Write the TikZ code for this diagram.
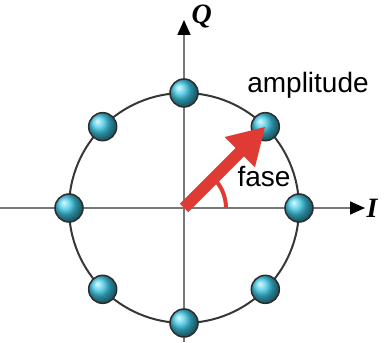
\documentclass[tikz,border=0pt]{standalone}
\usepackage{fontspec}
\setmainfont{Liberation Sans}
\newfontfamily\axisfont{Liberation Serif}
\usepackage{xcolor}
\definecolor{arrowred}{RGB}{224,58,52}
\definecolor{ballblue}{RGB}{60,200,230}
\definecolor{ringgray}{RGB}{55,55,55}
\definecolor{axisgray}{RGB}{120,120,120}
\usetikzlibrary{arrows.meta, positioning}

\begin{document}
\begin{tikzpicture}[
  x=1pt, y=1pt,
  dot/.style={circle,draw=ringgray!80!black,line width=1.5pt,minimum size=28pt,inner sep=0pt,
              shading=ball,ball color=ballblue},
  axis/.style={draw=axisgray,line width=1.8pt,-{Triangle[length=15pt,width=13pt,color=black]}},
  axislabel/.style={font=\axisfont\bfseries\itshape\fontsize{28}{28}\selectfont},
  lbl/.style={font=\fontsize{28}{30}\selectfont},
  vector/.style={draw=arrowred,line width=12pt,-{Triangle[length=36pt,width=40pt]}}
]
  \useasboundingbox (-184,-134) rectangle (206,208);
  \coordinate (o) at (0,0);
  \coordinate (xs) at (-184,0);
  \coordinate (ys) at (0,-134);
  \coordinate (xe) at (181,0);
  \coordinate (ye) at (0,188);

  % axes and ring
  \draw[axis] (xs) -- (xe);
  \draw[axis] (ys) -- (ye);
  \node[axislabel, right=-2pt of xe] (ilbl) {I};
  \node[axislabel, anchor=south west] (qlbl) at (4,176) {Q};
  \draw[ringgray, line width=2pt] (o) circle[radius=115];

  % constellation points
  \foreach \a in {0,45,...,315}
    \node[dot] (d\a) at (\a:115) {};

  % phase angle and amplitude vector
  \draw[arrowred, line width=4pt] (42,0) arc[start angle=0, end angle=45, radius=42];
  \draw[vector] (o) -- (d45.center);
  \node[lbl] (fase) at (80,31) {fase};
  \node[lbl] (amp) at (124,123) {amplitude};
\end{tikzpicture}
\end{document}
